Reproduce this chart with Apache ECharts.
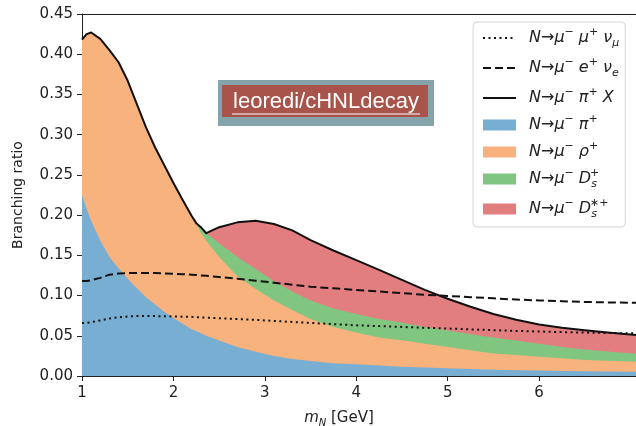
<!DOCTYPE html>
<html>
<head>
<meta charset="utf-8">
<script src="https://cdn.jsdelivr.net/npm/echarts@6/dist/echarts.min.js"></script>
<style>
  html, body { margin: 0; padding: 0; background: #fff; }
  #chart { width: 636px; height: 426px; }
</style>
</head>
<body>
<div id="chart"></div>
<script>
// Heavy neutral lepton mass grid (GeV)
const massGeV = [1.0, 1.05, 1.1, 1.2, 1.3, 1.4, 1.5, 1.6, 1.7, 1.8, 1.9, 2.0, 2.1, 2.2, 2.25, 2.3, 2.36,
  2.5, 2.7, 2.9, 3.1, 3.3, 3.5, 3.75, 4.0, 4.25, 4.5, 4.75, 5.0, 5.25, 5.5, 5.75, 6.0, 6.25, 6.5, 6.75, 7.06];

// Exclusive hadronic channels
const brPi = [0.225, 0.208, 0.193, 0.168, 0.148, 0.134, 0.121, 0.109, 0.098, 0.089, 0.080, 0.072, 0.065, 0.058, 0.056, 0.053, 0.050,
  0.044, 0.036, 0.030, 0.025, 0.021, 0.0185, 0.016, 0.0145, 0.013, 0.0116, 0.0105, 0.0095, 0.0087, 0.0079, 0.0073, 0.0067, 0.0063, 0.0059, 0.0056, 0.0054];
const brRho = [0.193, 0.217, 0.234, 0.251, 0.257, 0.256, 0.246, 0.229, 0.211, 0.195, 0.182, 0.168, 0.154, 0.141, 0.134, 0.125, 0.118,
  0.104, 0.088, 0.078, 0.069, 0.061, 0.0525, 0.045, 0.0395, 0.035, 0.0329, 0.0295, 0.0265, 0.0233, 0.0201, 0.0187, 0.0173, 0.0157, 0.0141, 0.0134, 0.0124];
const brDs = [0, 0, 0, 0, 0, 0, 0, 0, 0, 0, 0, 0, 0, 0, 0, 0.007, 0.0095,
  0.017, 0.024, 0.025, 0.024, 0.023, 0.023, 0.023, 0.023, 0.023, 0.022, 0.021, 0.021, 0.020, 0.020, 0.018, 0.016, 0.014, 0.013, 0.0115, 0.010];
const brDsStar = [0, 0, 0, 0, 0, 0, 0, 0, 0, 0, 0, 0, 0, 0, 0, 0, 0,
  0.020, 0.043, 0.060, 0.071, 0.076, 0.075, 0.072, 0.067, 0.061, 0.053, 0.046, 0.039, 0.034, 0.029, 0.026, 0.024, 0.024, 0.024, 0.0235, 0.0232];

// Leptonic channels
const brMuMuNu = [0.066, 0.066, 0.067, 0.069, 0.0715, 0.073, 0.074, 0.0745, 0.0745, 0.0745, 0.0743, 0.074, 0.0738, 0.0735, 0.073, 0.0728, 0.0725,
  0.0718, 0.0708, 0.0697, 0.0685, 0.0672, 0.066, 0.0645, 0.063, 0.062, 0.061, 0.060, 0.059, 0.058, 0.057, 0.056, 0.0553, 0.0546, 0.054, 0.0535, 0.053];
const brMuENu = [0.118, 0.118, 0.119, 0.122, 0.126, 0.1275, 0.128, 0.128, 0.128, 0.128, 0.1275, 0.127, 0.1265, 0.126, 0.1255, 0.125, 0.1245,
  0.123, 0.121, 0.1185, 0.116, 0.1135, 0.111, 0.109, 0.107, 0.105, 0.103, 0.101, 0.0995, 0.098, 0.0965, 0.095, 0.094, 0.093, 0.092, 0.0915, 0.091];

// Axis ticks
const xTicks = [1, 2, 3, 4, 5, 6];

// Cumulative tops of the stacked hadronic channels; the last one is N -> mu- pi+ X
const channels = [brPi, brRho, brDs, brDsStar];
const cumulative = channels.map((_, k) =>
  massGeV.map((_, i) => channels.slice(0, k + 1).reduce((s, c) => s + c[i], 0)));
const brPiX = cumulative[3];
const pts = arr => massGeV.map((m, i) => [m, arr[i]]);

const legendText = {
  mumunu: '{t|N→μ}{sup|−}{t| μ}{sup|+}{t| ν}{sub|μ}',
  muenu: '{t|N→μ}{sup|−}{t| e}{sup|+}{t| ν}{sub|e}',
  mupix: '{t|N→μ}{sup|−}{t| π}{sup|+}{t| X}',
  mupi: '{t|N→μ}{sup|−}{t| π}{sup|+}',
  murho: '{t|N→μ}{sup|−}{t| ρ}{sup|+}',
  muds: '{t|N→μ}{sup|−}{t| D}{sub|s}{sup2|+}',
  mudsstar: '{t|N→μ}{sup|−}{t| D}{sub|s}{sup2|∗+}'
};

const FONT = 'DejaVu Sans';
const TXT = '#222';
const richMath = {
  t: { fontFamily: FONT, fontStyle: 'italic', fontSize: 16, lineHeight: 22, color: TXT },
  sup: { fontFamily: FONT, fontStyle: 'italic', fontSize: 11, lineHeight: 13, verticalAlign: 'top', color: TXT },
  sup2: { fontFamily: FONT, fontStyle: 'italic', fontSize: 11, lineHeight: 13, verticalAlign: 'top', color: TXT, padding: [0, 0, 0, -7] },
  sub: { fontFamily: FONT, fontStyle: 'italic', fontSize: 11, lineHeight: 11, verticalAlign: 'bottom', color: TXT }
};

const areaColors = { mupi: '#79aed3', murho: '#f8b27e', muds: '#80c680', mudsstar: '#e37e80' };

// Areas are drawn from the outermost (total) inward so each layer covers the one below
function areaSeries(name, arr, z) {
  return {
    name, type: 'line', data: pts(arr), symbol: 'none', z,
    color: areaColors[name],
    lineStyle: { width: 0, opacity: 0 },
    areaStyle: { color: areaColors[name], opacity: 1 },
    emphasis: { disabled: true }
  };
}
function lineSeries(name, arr, type) {
  return {
    name, type: 'line', data: pts(arr), symbol: 'none', z: 4, color: '#111',
    lineStyle: { color: '#111', width: 2, type, join: 'round' },
    emphasis: { disabled: true }
  };
}

const chart = echarts.init(document.getElementById('chart'), null, { renderer: 'canvas' });
chart.setOption({
  animation: false,
  backgroundColor: '#fff',
  grid: { left: 82, right: 0, top: 14, bottom: 50, outerBoundsMode: 'none', containLabel: false },
  xAxis: [{
    type: 'value', min: 1, max: 7.06,
    axisLine: { show: true, lineStyle: { color: TXT, width: 1 } },
    axisTick: { show: true, length: 5, customValues: xTicks, lineStyle: { color: TXT } },
    axisLabel: { customValues: xTicks, margin: 10, fontFamily: FONT, fontSize: 15, color: TXT },
    splitLine: { show: false },
    name: '{i|m}{sub|N}{n| [GeV]}',
    nameLocation: 'middle', nameGap: 32,
    nameTextStyle: {
      padding: [0, 40, 0, 0],
      rich: {
        i: { fontFamily: FONT, fontStyle: 'italic', fontSize: 15, lineHeight: 20, color: TXT },
        sub: { fontFamily: FONT, fontStyle: 'italic', fontSize: 10, lineHeight: 10, verticalAlign: 'bottom', color: TXT },
        n: { fontFamily: FONT, fontSize: 15, lineHeight: 20, color: TXT }
      }
    }
  }, {
    type: 'value', min: 1, max: 7.06, position: 'top',
    axisLine: { show: true, lineStyle: { color: TXT, width: 1 } },
    axisTick: { show: false }, axisLabel: { show: false }, splitLine: { show: false }
  }],
  yAxis: {
    type: 'value', min: 0, max: 0.45, interval: 0.05,
    axisLine: { show: true, lineStyle: { color: TXT, width: 1 } },
    axisTick: { show: true, length: 5, lineStyle: { color: TXT } },
    axisLabel: { formatter: v => v.toFixed(2), margin: 9, fontFamily: FONT, fontSize: 15, color: TXT },
    splitLine: { show: false },
    name: 'Branching ratio', nameLocation: 'middle', nameGap: 57, nameRotate: 90,
    nameTextStyle: { fontFamily: FONT, fontSize: 14, color: TXT }
  },
  legend: {
    orient: 'vertical', left: 473, top: 22,
    itemWidth: 33, itemHeight: 11, itemGap: 8,
    backgroundColor: 'rgba(255,255,255,0.85)', borderColor: '#d4d4d4', borderWidth: 1, borderRadius: 4,
    padding: [5, 6, 7, 9],
    selectedMode: false,
    formatter: name => legendText[name],
    textStyle: { padding: [0, 0, 0, 8], rich: richMath },
    data: [
      { name: 'mumunu', itemStyle: { opacity: 0 } },
      { name: 'muenu', itemStyle: { opacity: 0 } },
      { name: 'mupix', itemStyle: { opacity: 0 } },
      { name: 'mupi', icon: 'rect' },
      { name: 'murho', icon: 'rect' },
      { name: 'muds', icon: 'rect' },
      { name: 'mudsstar', icon: 'rect' }
    ]
  },
  graphic: {
    elements: [{
      type: 'group', x: 218, y: 80, z: 100,
      children: [
        { type: 'rect', shape: { x: 0, y: 0, width: 216, height: 46 }, style: { fill: '#84a3ab' } },
        { type: 'rect', shape: { x: 4, y: 5, width: 206, height: 32 }, style: { fill: '#a8544a' } },
        { type: 'text', style: { x: 108, y: 22, text: 'leoredi/cHNLdecay', fill: '#fff',
            font: '22px "Liberation Sans", Arial, sans-serif', align: 'center', verticalAlign: 'middle' } },
        { type: 'line', shape: { x1: 14, y1: 34, x2: 202, y2: 34 }, style: { stroke: '#fff', lineWidth: 1 } }
      ]
    }]
  },
  series: [
    areaSeries('mudsstar', cumulative[3], 1),
    areaSeries('muds', cumulative[2], 1.1),
    areaSeries('murho', cumulative[1], 1.2),
    areaSeries('mupi', cumulative[0], 1.3),
    lineSeries('mumunu', brMuMuNu, [2, 3.5]),
    lineSeries('muenu', brMuENu, [8, 4]),
    lineSeries('mupix', brPiX, 'solid')
  ]
});
</script>
</body>
</html>
